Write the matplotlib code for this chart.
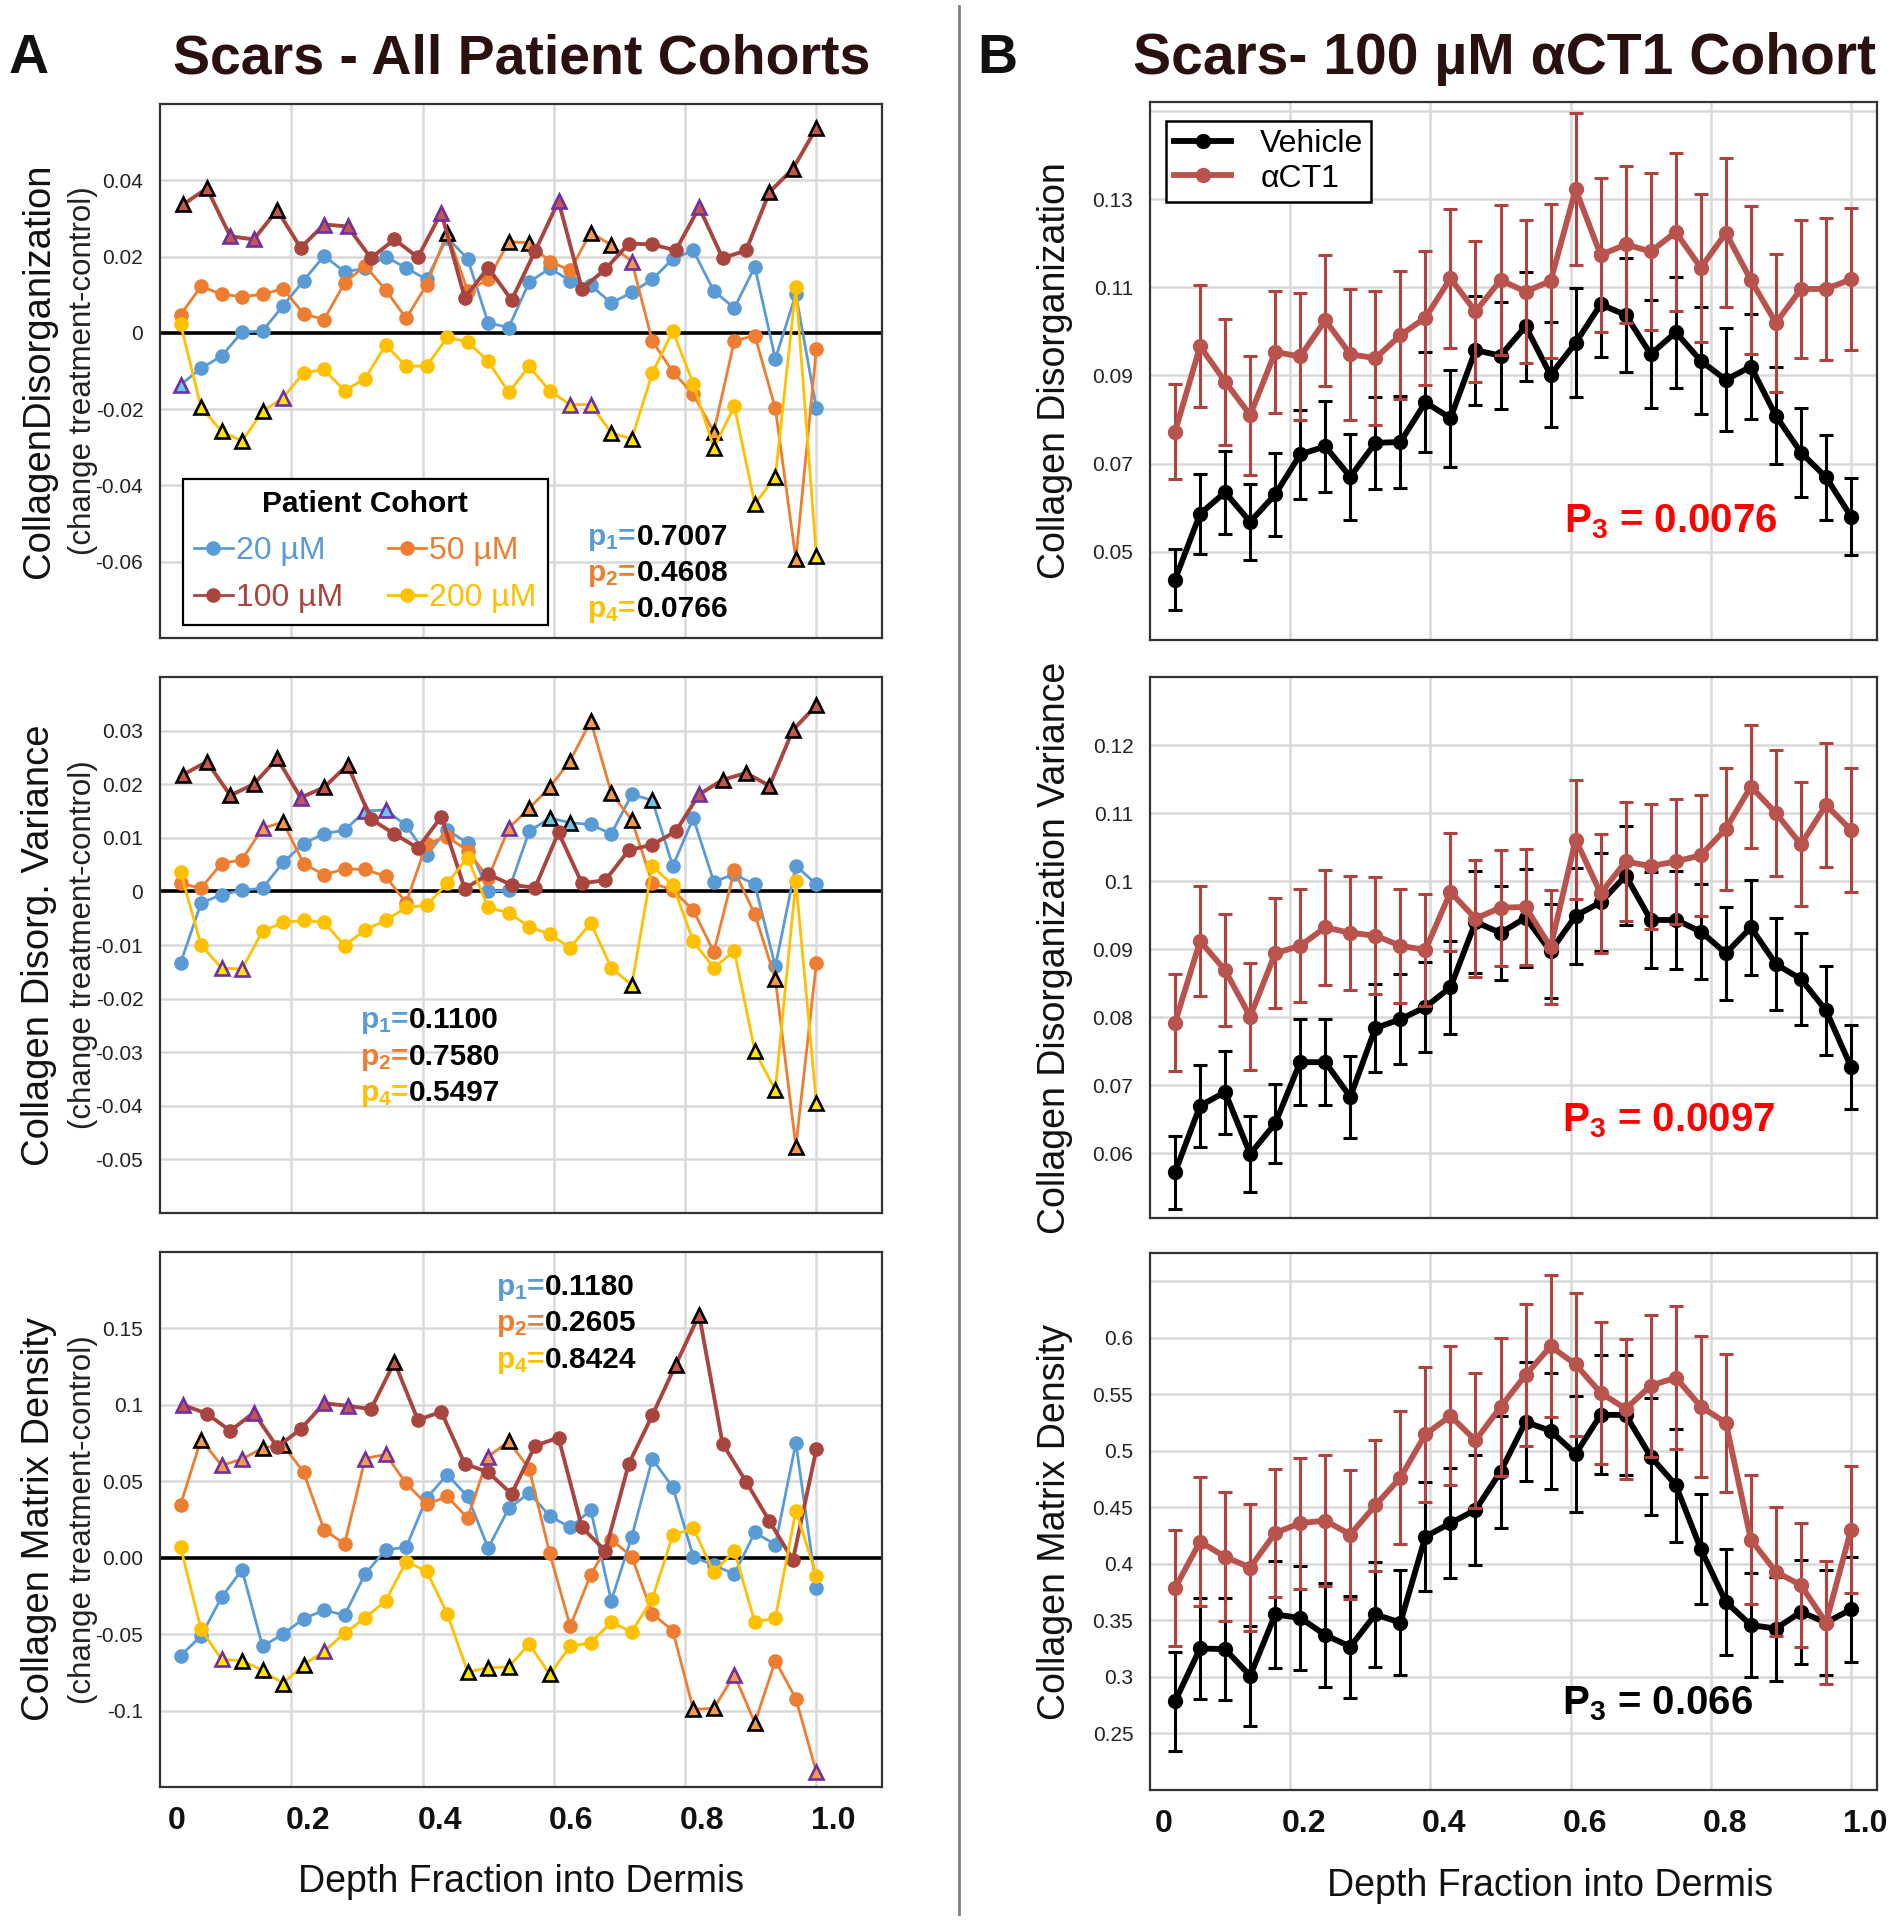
import numpy as np
import matplotlib
matplotlib.use('Agg')
import matplotlib.pyplot as plt
from matplotlib.lines import Line2D

plt.rcParams['font.family'] = ['Liberation Sans', 'DejaVu Sans']
plt.rcParams['mathtext.fontset'] = 'custom'
plt.rcParams['mathtext.rm'] = 'Liberation Sans:bold'
plt.rcParams['mathtext.it'] = 'Liberation Sans:bold'
plt.rcParams['mathtext.bf'] = 'Liberation Sans:bold'

# ---------------- data ----------------
depth32 = np.linspace(1 / 32, 1.0, 32)   # depth fractions, 20/50/200 uM cohorts
depth28 = np.linspace(1 / 28, 1.0, 28)   # depth fractions, 100 uM cohort

# Panel A1: Collagen disorganization (change treatment-control)
cd_20 = [-0.0136, -0.0093, -0.0061, 0.0002, 0.0005, 0.0071, 0.0137, 0.0202, 0.0160, 0.0169, 0.0200, 0.0170,
         0.0140, 0.0250, 0.0194, 0.0026, 0.0014, 0.0133, 0.0169, 0.0137, 0.0125, 0.0078, 0.0106, 0.0140,
         0.0194, 0.0216, 0.0110, 0.0065, 0.0173, -0.0068, 0.0101, -0.0198]
cd_50 = [0.0047, 0.0122, 0.0101, 0.0095, 0.0101, 0.0116, 0.0050, 0.0035, 0.0131, 0.0176, 0.0113, 0.0038,
         0.0126, 0.0263, 0.0110, 0.0140, 0.0239, 0.0236, 0.0187, 0.0164, 0.0263, 0.0230, 0.0187, -0.0021,
         -0.0102, -0.0161, -0.0260, -0.0021, -0.0007, -0.0198, -0.0594, -0.0043]
cd_100 = [0.0337, 0.0379, 0.0253, 0.0245, 0.0322, 0.0223, 0.0284, 0.0279, 0.0196, 0.0245, 0.0198, 0.0315,
          0.0092, 0.0171, 0.0086, 0.0214, 0.0345, 0.0115, 0.0167, 0.0234, 0.0232, 0.0216, 0.0329, 0.0196,
          0.0216, 0.0369, 0.0430, 0.0537]
cd_200 = [0.0024, -0.0195, -0.0258, -0.0284, -0.0206, -0.0170, -0.0105, -0.0096, -0.0152, -0.0120, -0.0032,
          -0.0087, -0.0087, -0.0012, -0.0023, -0.0075, -0.0156, -0.0088, -0.0152, -0.0188, -0.0188, -0.0262,
          -0.0278, -0.0106, 0.0005, -0.0133, -0.0302, -0.0192, -0.0449, -0.0377, 0.0119, -0.0585]
# significance markers: 0 = none, b = triangle (black edge), p = triangle (purple edge)
cd_20_sig = "p0000000000000000000000000000000"
cd_50_sig = "0000000000000b00bb00bbp000b000b0"
cd_100_sig = "bbppb0pp000p0000p00000p00bbb"
cd_200_sig = "0bbbbp0000000000000ppbb000b0bb0b"

# Panel A2: Collagen disorganization variance
cdv_20 = [-0.0134, -0.0022, -0.0006, 0.0002, 0.0006, 0.0054, 0.0089, 0.0108, 0.0114, 0.0150, 0.0152, 0.0123,
          0.0068, 0.0115, 0.0090, 0.0000, 0.0002, 0.0112, 0.0137, 0.0128, 0.0125, 0.0107, 0.0181, 0.0170,
          0.0047, 0.0137, 0.0018, 0.0032, 0.0013, -0.0140, 0.0048, 0.0013]
cdv_50 = [0.0015, 0.0006, 0.0052, 0.0059, 0.0118, 0.0129, 0.0052, 0.0031, 0.0042, 0.0041, 0.0028, -0.0021,
          0.0089, 0.0102, 0.0076, 0.0025, 0.0118, 0.0155, 0.0194, 0.0244, 0.0318, 0.0184, 0.0133, 0.0016,
          0.0002, -0.0035, -0.0113, 0.0039, -0.0043, -0.0163, -0.0476, -0.0134]
cdv_100 = [0.0218, 0.0242, 0.0179, 0.0200, 0.0248, 0.0175, 0.0194, 0.0236, 0.0135, 0.0107, 0.0081, 0.0139,
           0.0005, 0.0032, 0.0012, 0.0007, 0.0110, 0.0015, 0.0021, 0.0077, 0.0087, 0.0112, 0.0181, 0.0208,
           0.0221, 0.0197, 0.0301, 0.0347]
cdv_200 = [0.0037, -0.0100, -0.0143, -0.0145, -0.0074, -0.0058, -0.0054, -0.0058, -0.0101, -0.0072, -0.0054,
           -0.0030, -0.0026, 0.0015, 0.0063, -0.0030, -0.0040, -0.0066, -0.0080, -0.0105, -0.0059, -0.0142,
           -0.0175, 0.0047, 0.0012, -0.0093, -0.0143, -0.0111, -0.0298, -0.0371, 0.0019, -0.0395]
cdv_20_sig = "000000000pp0000000bb000b00000000"
cdv_50_sig = "0000pb0000000000pbbbbbb000000bb0"
cdv_100_sig = "bbbbbpbb00000000000000pbbbbb"
cdv_200_sig = "00pp000000000000000000b00000bb0b"

# Panel A3: Collagen matrix density
cmd_20 = [-0.0642, -0.0512, -0.0259, -0.0079, -0.0579, -0.0500, -0.0399, -0.0343, -0.0376, -0.0106, 0.0052,
          0.0068, 0.0390, 0.0543, 0.0401, 0.0063, 0.0322, 0.0424, 0.0273, 0.0198, 0.0311, -0.0282, 0.0138,
          0.0645, 0.0462, 0.0007, -0.0050, -0.0106, 0.0165, 0.0086, 0.0751, -0.0201]
cmd_50 = [0.0345, 0.0773, 0.0604, 0.0645, 0.0717, 0.0739, 0.0559, 0.0183, 0.0090, 0.0649, 0.0676, 0.0487,
          0.0349, 0.0401, 0.0259, 0.0661, 0.0762, 0.0582, 0.0029, -0.0449, -0.0110, 0.0119, 0.0007, -0.0365,
          -0.0478, -0.0992, -0.0985, -0.0766, -0.1080, -0.0674, -0.0922, -0.1402]
cmd_100 = [0.0999, 0.0942, 0.0830, 0.0949, 0.0724, 0.0841, 0.1010, 0.0994, 0.0972, 0.1280, 0.0902, 0.0954,
           0.0615, 0.0559, 0.0417, 0.0733, 0.0785, 0.0198, 0.0045, 0.0615, 0.0931, 0.1262, 0.1589, 0.0746,
           0.0498, 0.0239, -0.0016, 0.0710]
cmd_200 = [0.0070, -0.0467, -0.0665, -0.0674, -0.0737, -0.0823, -0.0699, -0.0613, -0.0494, -0.0394, -0.0282,
           -0.0027, -0.0088, -0.0365, -0.0748, -0.0719, -0.0715, -0.0564, -0.0764, -0.0579, -0.0557, -0.0422,
           -0.0485, -0.0268, 0.0147, 0.0192, -0.0095, 0.0045, -0.0422, -0.0395, 0.0307, -0.0117]
cmd_20_sig = "00000000000000000000000000000000"
cmd_50_sig = "0bppbb000pp0000pb00000000bbpb00p"
cmd_100_sig = "p00p00pp0b00000000000bb00000"
cmd_200_sig = "00pbbbbp000000bbb0b0000000000000"

# Panel B: 100 uM aCT1 cohort, mean +/- error
cd_veh = [0.0437, 0.0586, 0.0635, 0.0568, 0.0630, 0.0721, 0.0739, 0.0670, 0.0747, 0.0749, 0.0839, 0.0803,
          0.0957, 0.0945, 0.1011, 0.0901, 0.0974, 0.1061, 0.1037, 0.0948, 0.0998, 0.0933, 0.0890, 0.0920,
          0.0808, 0.0725, 0.0669, 0.0580]
cd_veh_err = [0.0070, 0.0090, 0.0094, 0.0086, 0.0094, 0.0101, 0.0103, 0.0097, 0.0105, 0.0105, 0.0113, 0.0110,
              0.0123, 0.0122, 0.0123, 0.0119, 0.0124, 0.0119, 0.0130, 0.0122, 0.0126, 0.0121, 0.0117, 0.0119,
              0.0110, 0.0101, 0.0096, 0.0087]
cd_act = [0.0772, 0.0966, 0.0886, 0.0810, 0.0953, 0.0943, 0.1025, 0.0948, 0.0939, 0.0991, 0.1031, 0.1120,
          0.1045, 0.1116, 0.1090, 0.1114, 0.1322, 0.1173, 0.1197, 0.1181, 0.1225, 0.1144, 0.1223, 0.1116,
          0.1019, 0.1096, 0.1096, 0.1118]
cd_act_err = [0.0108, 0.0138, 0.0143, 0.0135, 0.0139, 0.0145, 0.0149, 0.0149, 0.0152, 0.0145, 0.0152, 0.0158,
              0.0160, 0.0170, 0.0162, 0.0174, 0.0172, 0.0175, 0.0178, 0.0177, 0.0180, 0.0168, 0.0169, 0.0168,
              0.0157, 0.0157, 0.0161, 0.0161]

cdv_veh = [0.0572, 0.0670, 0.0690, 0.0599, 0.0644, 0.0734, 0.0734, 0.0683, 0.0784, 0.0797, 0.0815, 0.0844,
           0.0940, 0.0924, 0.0946, 0.0897, 0.0949, 0.0969, 0.1008, 0.0943, 0.0943, 0.0926, 0.0894, 0.0932,
           0.0878, 0.0856, 0.0810, 0.0727]
cdv_veh_err = [0.0054, 0.0060, 0.0061, 0.0056, 0.0058, 0.0063, 0.0063, 0.0060, 0.0065, 0.0066, 0.0066, 0.0068,
               0.0075, 0.0069, 0.0072, 0.0069, 0.0071, 0.0072, 0.0073, 0.0070, 0.0072, 0.0070, 0.0068, 0.0070,
               0.0068, 0.0068, 0.0066, 0.0062]
cdv_act = [0.0792, 0.0912, 0.0869, 0.0801, 0.0894, 0.0905, 0.0932, 0.0924, 0.0920, 0.0905, 0.0899, 0.0984,
           0.0945, 0.0961, 0.0962, 0.0903, 0.1061, 0.0982, 0.1029, 0.1022, 0.1029, 0.1038, 0.1077, 0.1139,
           0.1100, 0.1054, 0.1112, 0.1075]
cdv_act_err = [0.0071, 0.0081, 0.0082, 0.0079, 0.0081, 0.0083, 0.0084, 0.0084, 0.0086, 0.0084, 0.0082, 0.0087,
               0.0086, 0.0085, 0.0085, 0.0084, 0.0087, 0.0087, 0.0087, 0.0092, 0.0092, 0.0089, 0.0090, 0.0091,
               0.0092, 0.0091, 0.0091, 0.0091]

cmd_veh = [0.2784, 0.3252, 0.3246, 0.3010, 0.3553, 0.3522, 0.3371, 0.3268, 0.3553, 0.3481, 0.4241, 0.4361,
           0.4477, 0.4816, 0.5256, 0.5177, 0.4973, 0.5318, 0.5318, 0.4948, 0.4697, 0.4131, 0.3663, 0.3459,
           0.3428, 0.3575, 0.3481, 0.3597]
cmd_veh_err = [0.044, 0.045, 0.045, 0.0445, 0.047, 0.0463, 0.046, 0.045, 0.0463, 0.0463, 0.0484, 0.049,
               0.049, 0.0495, 0.0526, 0.0515, 0.051, 0.0526, 0.0528, 0.0515, 0.050, 0.0485, 0.0465, 0.046,
               0.046, 0.0463, 0.0463, 0.0463]
cmd_act = [0.3786, 0.4197, 0.4062, 0.3968, 0.4273, 0.4361, 0.4383, 0.4260, 0.4518, 0.4763, 0.5146, 0.5309,
           0.5092, 0.5388, 0.5670, 0.5925, 0.5764, 0.5513, 0.5372, 0.5576, 0.5648, 0.5391, 0.5249, 0.4213,
           0.3930, 0.3811, 0.3481, 0.4304]
cmd_act_err = [0.051, 0.057, 0.057, 0.056, 0.0565, 0.058, 0.058, 0.057, 0.058, 0.059, 0.060, 0.0615,
               0.060, 0.061, 0.0625, 0.063, 0.0635, 0.063, 0.0617, 0.063, 0.063, 0.0625, 0.061, 0.057,
               0.057, 0.055, 0.0545, 0.056]

cohort_labels = ["20 \u00b5M", "50 \u00b5M", "100 \u00b5M", "200 \u00b5M"]
xtick_vals = [0.0, 0.2, 0.4, 0.6, 0.8, 1.0]
xtick_labels = ["0", "0.2", "0.4", "0.6", "0.8", "1.0"]

# ---------------- styling ----------------
C20, C50, C100, C200 = '#5b9bd5', '#ed7d31', '#a9453f', '#ffc000'
TRI = {C20: '#6ec8ec', C50: '#f59a4c', C100: '#c4564f', C200: '#ffe400'}
PURPLE = '#7030a0'
GRID = '#d9d9d9'
VEH = 'black'
ACT = '#b8534d'
ACT_ERR = '#b0433d'
TITLE_C = '#2b1010'

W, H = 1892, 1920
fig = plt.figure(figsize=(W / 100, H / 100), dpi=100)


def add_ax(l, t, r, b):
    return fig.add_axes([l / W, 1 - b / H, (r - l) / W, (b - t) / H])


def style_axes(ax, xlim, ylim, yticks, ylabels, label_shift, show_x):
    ax.set_xlim(*xlim)
    ax.set_ylim(*ylim)
    ax.set_yticks(yticks)
    ax.set_yticklabels(ylabels, fontsize=15, color='#222222')
    ax.set_xticks([v + label_shift for v in xtick_vals])
    ax.set_xticklabels(xtick_labels if show_x else [], fontsize=23, fontweight='bold', color='#111111')
    ax.set_xticks(xtick_vals[1:], minor=True)
    ax.tick_params(which='both', length=0)
    ax.tick_params(axis='y', pad=12)
    ax.tick_params(axis='x', pad=14)
    ax.grid(which='minor', axis='x', color=GRID, lw=1.8, zorder=0)
    ax.grid(which='major', axis='y', color=GRID, lw=1.8, zorder=0)
    ax.grid(which='major', axis='x', visible=False)
    ax.set_axisbelow(True)
    for s in ax.spines.values():
        s.set_color('#333333')
        s.set_linewidth(1.6)


def draw_cohort(ax, vals, sig, color, lw, z):
    vals = np.asarray(vals)
    x = depth32 if len(vals) == 32 else depth28
    ax.plot(x, vals, color=color, lw=lw, zorder=z)
    codes = np.array(list(sig))
    c = codes == '0'
    ax.plot(x[c], vals[c], 'o', ms=9.5, color=color, mec=color, zorder=z + 0.5)
    for code, ec in (('b', 'black'), ('p', PURPLE)):
        m = codes == code
        ax.plot(x[m], vals[m], '^', ms=10.5, mfc=TRI[color], mec=ec, mew=1.9, zorder=z + 0.6)


def left_panel(box, sets, ylim, yticks, ylabels, ylab, pvals, pxy, show_x):
    ax = add_ax(*box)
    style_axes(ax, (0, 1.1), ylim, yticks, ylabels, 0.026, show_x)
    ax.axhline(0, color='black', lw=2.6, zorder=2)
    for k, (vals, sig, color, lw) in enumerate(sets):
        draw_cohort(ax, vals, sig, color, lw, 3 + k)
    ax.text(-0.168, 0.5, ylab, rotation=90, fontsize=27.5, ha='center', va='center',
            transform=ax.transAxes, color='#111111')
    ax.text(-0.107, 0.5, '(change treatment-control)', rotation=90, fontsize=22.5, ha='center',
            va='center', transform=ax.transAxes, color='#222222')
    px, py, dy = pxy
    for i, (sub, val, col) in enumerate(pvals):
        ax.text(px, py - i * dy, r'p$_{%s}$=' % sub, color=col, fontsize=21.5, fontweight='bold',
                ha='right', va='baseline', transform=ax.transAxes, zorder=20)
        ax.text(px, py - i * dy, val, color='black', fontsize=21.5, fontweight='bold',
                ha='left', va='baseline', transform=ax.transAxes, zorder=20)
    return ax


def right_panel(box, veh, veh_err, act, act_err, ylim, yticks, ylabels, ylab, ptext, pcol, pxy, show_x):
    ax = add_ax(*box)
    style_axes(ax, (0, 1.037), ylim, yticks, ylabels, 0.02, show_x)
    kw = dict(lw=4.2, marker='o', ms=10, capsize=5, elinewidth=2.2, capthick=2.2)
    ax.errorbar(depth28, veh, yerr=veh_err, color=VEH, ecolor=VEH, zorder=3, **kw)
    ax.errorbar(depth28, act, yerr=act_err, color=ACT, ecolor=ACT_ERR, zorder=4, **kw)
    ax.text(-0.13, 0.5, ylab, rotation=90, fontsize=27, ha='center', va='center',
            transform=ax.transAxes, color='#111111')
    ax.text(pxy[0], pxy[1], ptext, color=pcol, fontsize=29, fontweight='bold', ha='left',
            va='baseline', transform=ax.transAxes, zorder=20)
    return ax


L, R = 160, 882
RL, RR = 1150, 1877

# ---- Panel A ----
ax1 = left_panel((L, 104, R, 638),
                 [(cd_20, cd_20_sig, C20, 2.0), (cd_50, cd_50_sig, C50, 2.0),
                  (cd_100, cd_100_sig, C100, 2.8), (cd_200, cd_200_sig, C200, 2.0)],
                 (-0.08, 0.06), [-0.06, -0.04, -0.02, 0, 0.02, 0.04],
                 ['-0.06', '-0.04', '-0.02', '0', '0.02', '0.04'],
                 'CollagenDisorganization',
                 [('1', '0.7007', C20), ('2', '0.4608', C50), ('4', '0.0766', C200)],
                 (0.66, 0.175, 0.068), False)
handles = [Line2D([], [], color=c, marker='o', ms=9.5, lw=2) for c in (C20, C100, C50, C200)]
labels = [cohort_labels[0], cohort_labels[2], cohort_labels[1], cohort_labels[3]]
leg = ax1.legend(handles, labels, ncol=2, loc='lower left', bbox_to_anchor=(0.032, 0.025),
                 borderaxespad=0, fontsize=23, title='Patient Cohort',
                 title_fontproperties={'weight': 'bold', 'size': 21.5},
                 labelcolor=[C20, C100, C50, C200], frameon=True, fancybox=False,
                 edgecolor='black', framealpha=1, handlelength=1.2, handletextpad=0.1,
                 columnspacing=1.4, borderpad=0.35, labelspacing=0.55)
leg.get_frame().set_linewidth(1.6)
leg.set_zorder(15)

left_panel((L, 677, R, 1213),
           [(cdv_20, cdv_20_sig, C20, 2.0), (cdv_50, cdv_50_sig, C50, 2.0),
            (cdv_100, cdv_100_sig, C100, 2.8), (cdv_200, cdv_200_sig, C200, 2.0)],
           (-0.06, 0.04), [-0.05, -0.04, -0.03, -0.02, -0.01, 0, 0.01, 0.02, 0.03],
           ['-0.05', '-0.04', '-0.03', '-0.02', '-0.01', '0', '0.01', '0.02', '0.03'],
           'Collagen Disorg. Variance',
           [('1', '0.1100', C20), ('2', '0.7580', C50), ('4', '0.5497', C200)],
           (0.345, 0.345, 0.068), False)

ax3 = left_panel((L, 1252, R, 1787),
                 [(cmd_20, cmd_20_sig, C20, 2.0), (cmd_50, cmd_50_sig, C50, 2.0),
                  (cmd_100, cmd_100_sig, C100, 2.8), (cmd_200, cmd_200_sig, C200, 2.0)],
                 (-0.15, 0.2), [-0.1, -0.05, 0, 0.05, 0.1, 0.15],
                 ['-0.1', '-0.05', '0.00', '0.05', '0.1', '0.15'],
                 'Collagen Matrix Density',
                 [('1', '0.1180', C20), ('2', '0.2605', C50), ('4', '0.8424', C200)],
                 (0.533, 0.92, 0.068), True)
ax3.text(0.5, -95 / 535, 'Depth Fraction into Dermis', fontsize=27, ha='center', va='center',
         transform=ax3.transAxes, color='#111111')

# ---- Panel B ----
bx1 = right_panel((RL, 102, RR, 640), cd_veh, cd_veh_err, cd_act, cd_act_err,
                  (0.03, 0.152), [0.05, 0.07, 0.09, 0.11, 0.13, 0.15],
                  ['0.05', '0.07', '0.09', '0.11', '0.13', ''],
                  'Collagen Disorganization', 'P$_3$ = 0.0076', '#ff0000', (0.57, 0.2), False)
rh = [Line2D([], [], color=VEH, marker='o', ms=10, lw=4.2),
      Line2D([], [], color=ACT, marker='o', ms=10, lw=4.2)]
lg2 = bx1.legend(rh, ['Vehicle', '\u03b1CT1'], loc='upper left', bbox_to_anchor=(0.022, 0.965),
                 borderaxespad=0, fontsize=23, frameon=True, fancybox=False, edgecolor='black',
                 framealpha=1, handlelength=1.8, handletextpad=0.9, borderpad=0.25, labelspacing=0.15)
lg2.get_frame().set_linewidth(1.8)

right_panel((RL, 677, RR, 1218), cdv_veh, cdv_veh_err, cdv_act, cdv_act_err,
            (0.0505, 0.130), [0.06, 0.07, 0.08, 0.09, 0.10, 0.11, 0.12],
            ['0.06', '0.07', '0.08', '0.09', '0.1', '0.11', '0.12'],
            'Collagen Disorganization Variance', 'P$_3$ = 0.0097', '#ff0000', (0.567, 0.16), False)

bx3 = right_panel((RL, 1253, RR, 1790), cmd_veh, cmd_veh_err, cmd_act, cmd_act_err,
                  (0.2, 0.675), [0.25, 0.3, 0.35, 0.4, 0.45, 0.5, 0.55, 0.6, 0.65],
                  ['0.25', '0.3', '0.35', '0.4', '0.45', '0.5', '0.55', '0.6', ''],
                  'Collagen Matrix Density', 'P$_3$ = 0.066', 'black', (0.567, 0.14), True)
bx3.text(0.55, -96 / 537, 'Depth Fraction into Dermis', fontsize=27, ha='center', va='center',
         transform=bx3.transAxes, color='#111111')

# ---- titles & separator ----
fig.text(29 / W, 1 - 59 / H, 'A', fontsize=40, fontweight='bold', ha='center', va='center', color='#111111')
fig.text(522 / W, 1 - 59 / H, 'Scars - All Patient Cohorts', fontsize=40, fontweight='bold',
         ha='center', va='center', color=TITLE_C)
fig.text(997 / W, 1 - 59 / H, 'B', fontsize=40, fontweight='bold', ha='center', va='center', color='#111111')
fig.text(1504 / W, 1 - 59 / H, 'Scars- 100 \u00b5M \u03b1CT1 Cohort', fontsize=41, fontweight='bold',
         ha='center', va='center', color=TITLE_C)
fig.add_artist(Line2D([959 / W, 959 / W], [1 - 6 / H, 1 - 1914 / H], color='#808080', lw=2))

fig.savefig('out.png', dpi=100, facecolor='white')
